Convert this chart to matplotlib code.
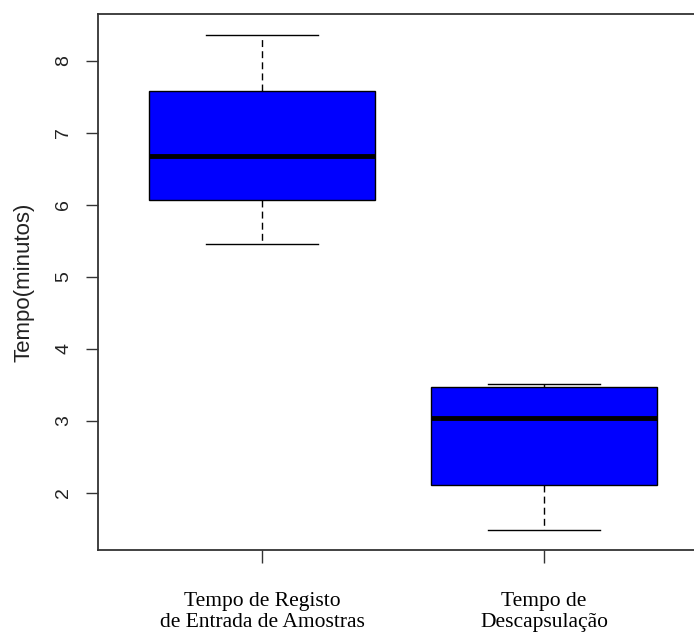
import numpy as np
import matplotlib
matplotlib.use('Agg')
import matplotlib.pyplot as plt

# boxplot stats
labels = ['Tempo de Registo\nde Entrada de Amostras', 'Tempo de\nDescapsulação']
whislo = [5.45, 1.48]
q1 = [6.06, 2.11]
med = [6.67, 3.04]
q3 = [7.57, 3.47]
whishi = [8.36, 3.51]

stats = []
for i in range(len(labels)):
    stats.append(dict(label=labels[i], whislo=whislo[i], q1=q1[i], med=med[i],
                      q3=q3[i], whishi=whishi[i]))

fig = plt.figure(figsize=(6.94, 6.32), dpi=100)
ax = fig.add_axes([98/694, 82/632, 610/694, 536/632])

ax.bxp(stats, positions=[1, 2], widths=0.8, patch_artist=True, showfliers=False,
       boxprops=dict(facecolor='#0000ff', edgecolor='black', linewidth=1.0),
       medianprops=dict(color='black', linewidth=3.5),
       whiskerprops=dict(color='black', linewidth=1.0, linestyle=(0, (5, 3))),
       capprops=dict(color='black', linewidth=1.0), capwidths=0.4)

ax.set_xlim(0.418, 2.582)
ax.set_ylim(1.204, 8.646)
ax.set_yticks([2, 3, 4, 5, 6, 7, 8])
ax.set_xticks([1, 2])
ax.set_xticklabels(labels, family='Liberation Serif', fontsize=15.5, linespacing=1.15)
for t in ax.get_yticklabels():
    t.set_rotation(90)
    t.set_va('center')
    t.set_family('Liberation Sans')
    t.set_fontsize(14)
ax.tick_params(axis='y', length=8.5, width=1.0, color='#333333', pad=10, labelcolor='#222222')
ax.tick_params(axis='x', length=9.5, width=1.0, color='#333333', pad=21)
ax.set_ylabel('Tempo(minutos)', family='Liberation Sans', fontsize=16, labelpad=15,
              color='#222222')

for s in ['left', 'bottom', 'top', 'right']:
    ax.spines[s].set_color('#333333')
    ax.spines[s].set_linewidth(1.3)

fig.savefig('out.png', dpi=100, facecolor='white')
